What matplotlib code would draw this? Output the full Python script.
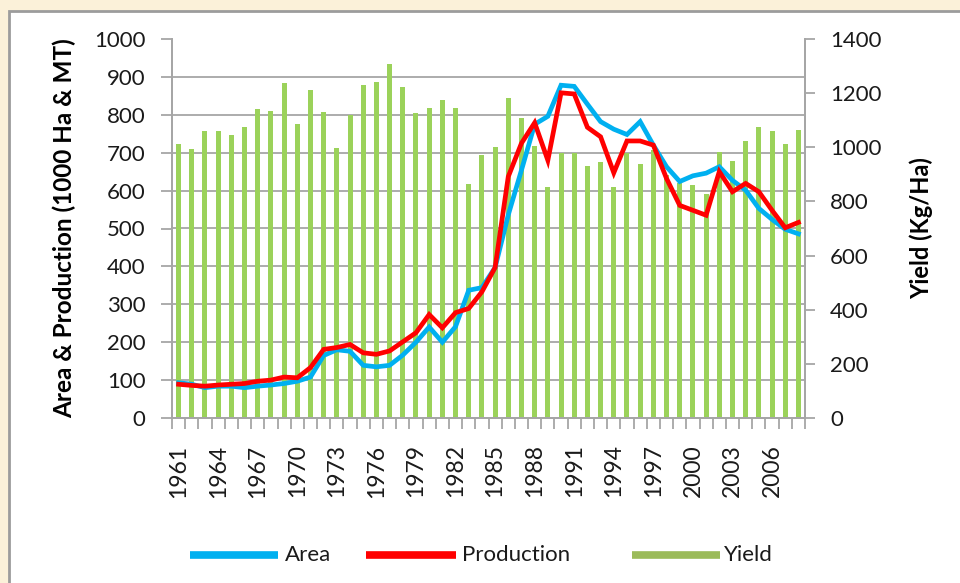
import matplotlib
matplotlib.use("Agg")
import matplotlib.pyplot as plt
from matplotlib.patches import Rectangle
from matplotlib.lines import Line2D
from matplotlib.ticker import MultipleLocator, FixedLocator
import numpy as np

years = list(range(1961, 2009))
area = [93, 89, 80, 84, 84, 80, 84, 87, 91, 97,
        108, 165, 180, 176, 139, 135, 139, 166, 200, 240,
        200, 241, 337, 344, 397, 536, 654, 775, 796, 878,
        875, 828, 782, 762, 748, 782, 720, 663, 624, 639,
        646, 663, 627, 601, 553, 524, 498, 486]
production = [89, 86, 84, 87, 89, 91, 97, 100, 108, 106,
              133, 181, 186, 194, 172, 168, 177, 201, 225, 273,
              238, 278, 289, 333, 397, 637, 725, 779, 680, 858,
              855, 767, 742, 647, 731, 731, 720, 632, 561, 548,
              535, 650, 597, 619, 597, 548, 502, 516]
yield_kg = [1011, 993, 1059, 1059, 1044, 1074, 1140, 1135, 1236, 1087,
            1211, 1130, 998, 1118, 1231, 1240, 1306, 1221, 1126, 1145,
            1173, 1145, 864, 972, 1002, 1182, 1107, 1006, 855, 980,
            980, 930, 944, 855, 980, 937, 990, 896, 868, 859,
            827, 982, 949, 1022, 1074, 1060, 1012, 1065]

W, H = 960, 583
fig = plt.figure(figsize=(W / 100, H / 100), dpi=100, facecolor="#FBF1D9")
plt.rcParams["font.family"] = ["Lato", "DejaVu Sans"]

# white panel with grey frame
fig.add_artist(Rectangle((8.5 / W, -0.02), 1.05, (H - 10.5) / H + 0.02,
                         transform=fig.transFigure, facecolor="white",
                         edgecolor="#9C9C9C", linewidth=2.0, zorder=0))

l, r, t, b = 172, 805, 39, 418
ax2 = fig.add_axes([l / W, 1 - b / H, (r - l) / W, (b - t) / H])
ax = ax2.twinx()
ax.set_zorder(3)
ax.patch.set_visible(False)
ax2.set_zorder(2)
ax2.patch.set_facecolor("white")

x = np.arange(len(years))
grid_c = "#A6A6A6"

# bars (yield) on the right axis, drawn beneath
ax2.bar(x, yield_kg, width=0.38, color="#9BD25A", zorder=2)
ax2.set_ylim(0, 1400)
ax2.set_xlim(-0.5, len(years) - 0.5)

# lines (area, production) on the left axis, on top
ax.plot(x, area, color="#00B0F0", linewidth=3.4, solid_joinstyle="miter", zorder=3)
ax.plot(x, production, color="#FF0000", linewidth=3.4, solid_joinstyle="miter", zorder=4)
ax.set_ylim(0, 1000)

# Left axis is ax (twin) -> move its ticks to the left, yield ticks to the right
ax.yaxis.tick_left()
ax.yaxis.set_label_position("left")
ax2.yaxis.tick_right()
ax2.yaxis.set_label_position("right")

ax.set_yticks(np.arange(0, 1001, 100))
ax2.set_yticks(np.arange(0, 1401, 200))
# gridlines behind the bars, at left-axis positions (140 yield units = 100 left units)
ax2.yaxis.set_minor_locator(MultipleLocator(140))
ax2.grid(which="minor", axis="y", color=grid_c, linewidth=1.3, zorder=0)
ax2.set_axisbelow(True)
ax2.tick_params(axis="y", which="minor", length=0)

tick_font = 16
ax.tick_params(axis="y", direction="out", length=8, width=1.3, color=grid_c,
               labelsize=tick_font, pad=11, labelcolor="#1a1a1a")
ax2.tick_params(axis="y", which="major", direction="out", length=7, width=1.3, color=grid_c,
                labelsize=tick_font, pad=11, labelcolor="#1a1a1a")

# x axis: labels every 3 years, tick marks at category boundaries
ax2.xaxis.set_major_locator(FixedLocator(x[::3]))
ax2.set_xticklabels([str(y) for y in years[::3]], rotation=90)
ax2.xaxis.set_minor_locator(FixedLocator(np.arange(-0.5, len(years), 1.0)))
ax2.tick_params(axis="x", which="major", length=0, labelsize=16.5, pad=19,
                labelcolor="#1a1a1a")
ax2.tick_params(axis="x", which="minor", direction="out", length=8, width=1.3, color=grid_c)
ax.tick_params(axis="x", which="both", length=0, labelbottom=False)

for a in (ax, ax2):
    for s in a.spines.values():
        s.set_color(grid_c)
        s.set_linewidth(1.3)
    a.spines["top"].set_visible(False)

ax.set_ylabel("Area & Production (1000 Ha & MT)", fontsize=17.5, fontweight="bold",
              labelpad=13)
ax2.set_ylabel("Yield (Kg/Ha)", fontsize=17, fontweight="bold", labelpad=20)

# legend
ly = 1 - 555 / H
items = [(190, 278, "#00B0F0", 285, "Area"),
         (366, 456, "#FF0000", 462, "Production"),
         (632, 720, "#9BBB59", 724, "Yield")]
for x0, x1, c, tx, lab in items:
    fig.add_artist(Line2D([x0 / W, x1 / W], [ly, ly], transform=fig.transFigure,
                          color=c, linewidth=5.5, solid_capstyle="butt"))
    fig.text(tx / W, ly, lab, fontsize=16, va="center", ha="left", color="#1a1a1a")

fig.savefig("out.png", dpi=100, facecolor=fig.get_facecolor())
